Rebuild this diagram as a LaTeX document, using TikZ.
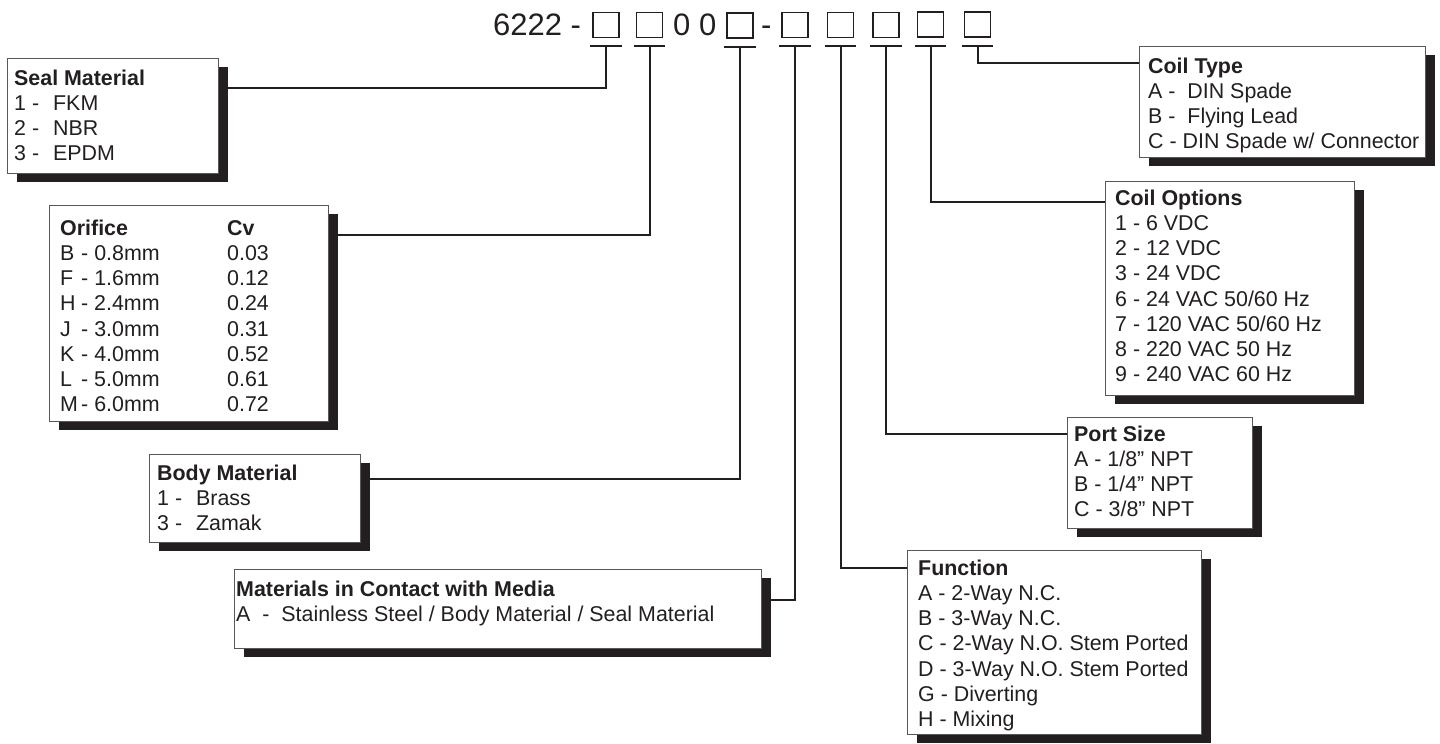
\documentclass[tikz,border=0pt]{standalone}
\usepackage{fontspec}
\setmainfont{Liberation Sans}
\usetikzlibrary{shadows}
\definecolor{ink}{RGB}{35,31,32}
\newcommand{\ltr}[1]{\makebox[21pt][l]{#1}}

\begin{document}
\begin{tikzpicture}[x=1pt, y=-1pt,
    panel/.style={draw=ink!75, line width=0.9pt, fill=white, anchor=north west, inner sep=0pt,
      drop shadow={shadow xshift=9.5pt, shadow yshift=-9pt, fill=ink, opacity=1}},
    label/.style={anchor=north west, inner sep=0pt, align=left, text=ink, font=\fontsize{21.4}{25.2}\selectfont},
    slot/.style={draw=ink, line width=1.8pt, minimum width=26pt, minimum height=25pt, inner sep=0pt},
    digits/.style={anchor=base west, text=ink, inner sep=0pt, font=\fontsize{31}{31}\selectfont},
    tick/.style={draw=ink, line width=2pt},
    lead/.style={draw=ink, line width=2pt}
  ]
  \useasboundingbox (0,0) rectangle (1440,744);

  % Part number
  \node[digits] (pn) at (493,35) {6222 -};
  \node[slot] (s1) at (606,25) {};
  \node[slot] (s2) at (649.5,25) {};
  \node[digits] (zeros) at (673,35) {0 0};
  \node[slot] (s3) at (740,25.5) {};
  \node[digits] (dash) at (761,35) {-};
  \node[slot] (s4) at (795,25) {};
  \node[slot] (s5) at (840.5,25) {};
  \node[slot] (s6) at (886,25) {};
  \node[slot] (s7) at (930.5,24.5) {};
  \node[slot] (s8) at (977.5,24.5) {};
  \foreach \i in {1,...,8}
    \draw[tick] ([xshift=-2pt,yshift=-8pt]s\i.south west) -- ([xshift=2pt,yshift=-8pt]s\i.south east);

  % Boxes
  \node[panel, minimum width=211pt, minimum height=115pt] (seal) at (7,58) {};
  \node[panel, minimum width=279pt, minimum height=216pt] (orifice) at (49,205) {};
  \node[panel, minimum width=211pt, minimum height=88pt] (body) at (149,454) {};
  \node[panel, minimum width=527pt, minimum height=79pt] (media) at (234,569) {};
  \node[panel, minimum width=294pt, minimum height=184pt] (function) at (907,550) {};
  \node[panel, minimum width=185pt, minimum height=111pt] (port) at (1067,417) {};
  \node[panel, minimum width=249pt, minimum height=214pt] (coilopt) at (1105,181) {};
  \node[panel, minimum width=286pt, minimum height=111pt] (coiltype) at (1139,46) {};

  % Texts
  \node[label] (sealtxt) at ([xshift=7pt,yshift=-11.5pt]seal.north west)
    {\textbf{Seal Material}\\1 -\hspace{14pt}FKM\\2 -\hspace{14pt}NBR\\3 -\hspace{14pt}EPDM};
  \node[label] (orificetxt) at ([xshift=11pt,yshift=-14.5pt]orifice.north west)
    {\textbf{Orifice\vphantom{Cfl}}\\\ltr{B}- 0.8mm\\\ltr{F}- 1.6mm\\\ltr{H}- 2.4mm\\\ltr{J}- 3.0mm\\\ltr{K}- 4.0mm\\\ltr{L}- 5.0mm\\\ltr{M}- 6.0mm};
  \node[label] (cvtxt) at (orificetxt.north west -| 227,0)
    {\textbf{Cv\vphantom{Ofl}}\\0.03\\0.12\\0.24\\0.31\\0.52\\0.61\\0.72};
  \node[label] (bodytxt) at ([xshift=8pt,yshift=-10.5pt]body.north west)
    {\textbf{Body Material}\\1 -\hspace{14pt}Brass\\3 -\hspace{14pt}Zamak};
  \node[label] (mediatxt) at ([xshift=2pt,yshift=-11.5pt]media.north west)
    {\textbf{Materials in Contact with Media}\\A\ \ -\ \ Stainless Steel / Body Material / Seal Material};
  \node[label] (functiontxt) at ([xshift=11pt,yshift=-9.5pt]function.north west)
    {\textbf{Function}\\A - 2-Way N.C.\\B - 3-Way N.C.\\C - 2-Way N.O. Stem Ported\\D - 3-Way N.O. Stem Ported\\G - Diverting\\H - Mixing};
  \node[label] (porttxt) at ([xshift=7pt,yshift=-8.5pt]port.north west)
    {\textbf{Port Size}\\A - 1/8” NPT\\B - 1/4” NPT\\C - 3/8” NPT};
  \node[label] (coilopttxt) at ([xshift=10pt,yshift=-8.5pt]coilopt.north west)
    {\textbf{Coil Options}\\1 - 6 VDC\\2 - 12 VDC\\3 - 24 VDC\\6 - 24 VAC 50/60 Hz\\7 - 120 VAC 50/60 Hz\\8 - 220 VAC 50 Hz\\9 - 240 VAC 60 Hz};
  \node[label] (coiltypetxt) at ([xshift=9pt,yshift=-11.5pt]coiltype.north west)
    {\textbf{Coil Type}\\A -\ \ DIN Spade\\B -\ \ Flying Lead\\C - DIN Spade w/ Connector};

  % Leads
  \draw[lead] ([yshift=-8pt]s1.south) |- (seal.east |- 0,88);
  \draw[lead] ([yshift=-8pt]s2.south) |- (orifice.east |- 0,235);
  \draw[lead] ([yshift=-8pt]s3.south) |- (body.east |- 0,479);
  \draw[lead] ([yshift=-8pt]s4.south) |- (media.east |- 0,600);
  \draw[lead] ([yshift=-8pt]s5.south) |- (function.west |- 0,568);
  \draw[lead] ([yshift=-8pt]s6.south) |- (port.west |- 0,434);
  \draw[lead] ([yshift=-8pt]s7.south) |- (coilopt.west |- 0,202);
  \draw[lead] ([yshift=-8pt]s8.south) |- (coiltype.west |- 0,63);
\end{tikzpicture}
\end{document}
